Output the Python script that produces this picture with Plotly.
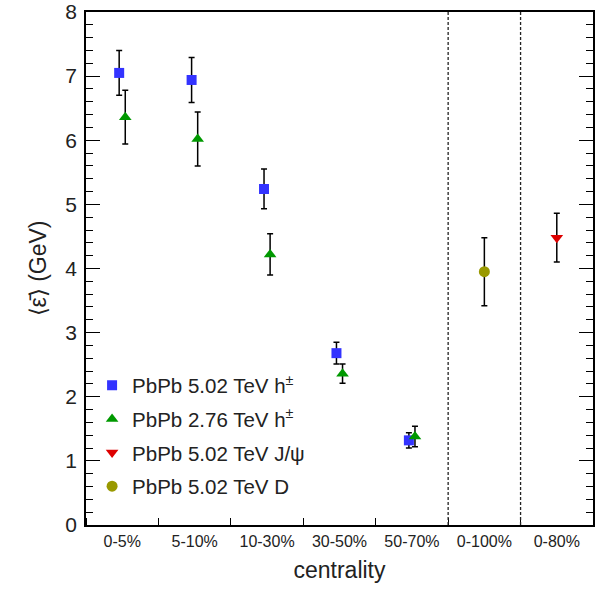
import plotly.graph_objects as go

categories = ["0-5%", "5-10%", "10-30%", "30-50%", "50-70%", "0-100%", "0-80%"]

# PbPb 5.02 TeV h± (categories 0..4)
h502_idx = [0, 1, 2, 3, 4]
h502_val = [7.05, 6.94, 5.24, 2.68, 1.32]
h502_err = [0.35, 0.35, 0.31, 0.17, 0.12]

# PbPb 2.76 TeV h±
h276_idx = [0, 1, 2, 3, 4]
h276_val = [6.36, 6.02, 4.22, 2.36, 1.38]
h276_err = [0.42, 0.42, 0.32, 0.15, 0.16]

# PbPb 5.02 TeV J/psi (0-80%)
jpsi_idx = [6]
jpsi_val = [4.48]
jpsi_err = [0.38]

# PbPb 5.02 TeV D (0-100%)
d_idx = [5]
d_val = [3.95]
d_err = [0.53]

dashed_boundaries = [4.5, 5.5]
offset = 0.042

FONT = "Liberation Sans, Arial, Helvetica, sans-serif"

def err(e):
    return dict(type="data", array=e, visible=True, color="black", thickness=1.5, width=3)

fig = go.Figure()
fig.add_trace(go.Scatter(
    x=[i - offset for i in h502_idx], y=h502_val, mode="markers",
    error_y=err(h502_err),
    marker=dict(symbol="square", size=10, color="#3333ff"),
    name="PbPb 5.02 TeV h<sup>±</sup>", legendgroup="a"))
fig.add_trace(go.Scatter(
    x=[i + offset for i in h276_idx], y=h276_val, mode="markers",
    error_y=err(h276_err),
    marker=dict(symbol="triangle-up", size=11, color="#009900"),
    name="PbPb 2.76 TeV h<sup>±</sup>", legendgroup="b"))
fig.add_trace(go.Scatter(
    x=jpsi_idx, y=jpsi_val, mode="markers",
    error_y=err(jpsi_err),
    marker=dict(symbol="triangle-down", size=11, color="#dd0000"),
    name="PbPb 5.02 TeV J/ψ", legendgroup="c"))
fig.add_trace(go.Scatter(
    x=d_idx, y=d_val, mode="markers",
    error_y=err(d_err),
    marker=dict(symbol="circle", size=11, color="#999900"),
    name="PbPb 5.02 TeV D", legendgroup="d"))

for b in dashed_boundaries:
    fig.add_shape(type="line", xref="x", yref="paper", x0=b, x1=b, y0=0, y1=1,
                  line=dict(color="#222", width=1.3, dash="3px,2px"))

fig.update_layout(
    width=602, height=593,
    margin=dict(l=86, r=9, t=12, b=68, autoexpand=False),
    plot_bgcolor="white", paper_bgcolor="white",
    font=dict(family=FONT, color="#222"),
    showlegend=True,
    legend=dict(x=0.012, y=0.311, xanchor="left", yanchor="top",
                bgcolor="rgba(0,0,0,0)", font=dict(size=20.5, color="#222"),
                tracegroupgap=4, itemwidth=30),
    xaxis=dict(
        range=[-0.5, 6.5], tickmode="array", automargin=False,
        tickvals=list(range(len(categories))), ticktext=categories,
        ticks="", showgrid=False, zeroline=False,
        showline=True, linecolor="black", linewidth=1.5, mirror=True,
        tickfont=dict(size=16, color="#222"), ticklabelstandoff=1,
        ticklabeloverflow="allow",
        minor=dict(tickmode="linear", tick0=0.5, dtick=1, ticks="inside",
                   ticklen=7, tickcolor="black", tickwidth=1.2, showgrid=False),
        title=dict(text="centrality", font=dict(size=23, color="#222"), standoff=13),
    ),
    yaxis=dict(
        range=[0, 8], dtick=1, ticks="inside", ticklen=14, tickwidth=1.2,
        tickcolor="black", showgrid=False, zeroline=False, automargin=False,
        showline=True, linecolor="black", linewidth=1.5, mirror="allticks",
        tickfont=dict(size=21, color="#222"), ticklabelstandoff=3,
        ticklabeloverflow="allow",
        minor=dict(dtick=0.2, ticks="inside", ticklen=7, tickcolor="black",
                   tickwidth=1.2, showgrid=False),
        title=dict(text="⟨ε\u0304⟩ (GeV)", font=dict(size=23, color="#222"), standoff=12),
    ),
)

fig.write_html("out.html", config={"displayModeBar": False},
               post_script="document.body.style.margin='0';document.body.style.padding='0';")
